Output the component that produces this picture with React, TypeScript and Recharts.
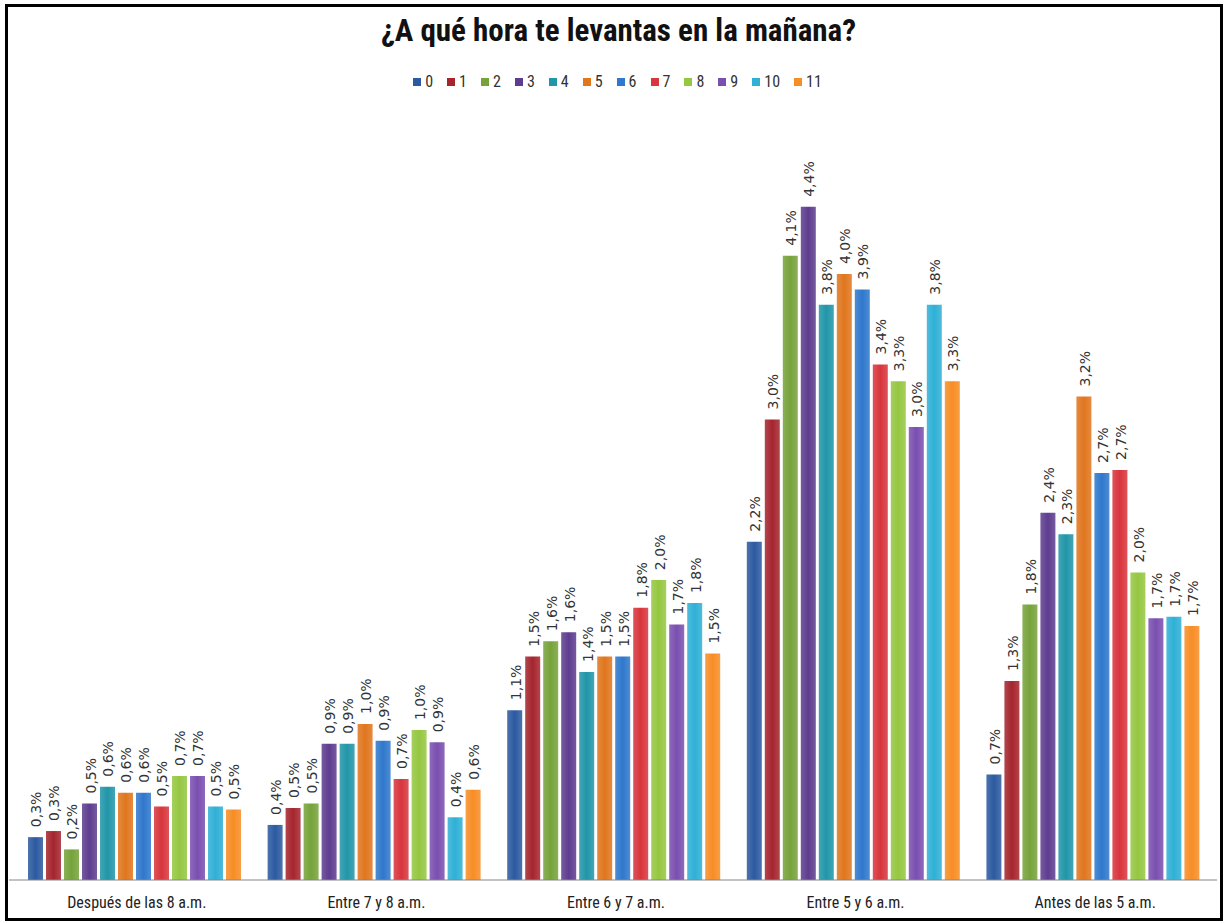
import { BarChart, Bar, XAxis, YAxis, LabelList } from 'recharts'

// Rangos horarios (eje X)
const categories = [
  'Después de las 8 a.m.',
  'Entre 7 y 8 a.m.',
  'Entre 6 y 7 a.m.',
  'Entre 5 y 6 a.m.',
  'Antes de las 5 a.m.',
]

// Nombres de las series (leyenda)
const seriesNames = ['0', '1', '2', '3', '4', '5', '6', '7', '8', '9', '10', '11']

// Valores (%) por serie, en el orden de las categorías
const serie0 = [0.28, 0.36, 1.11, 2.21, 0.69]
const serie1 = [0.32, 0.47, 1.46, 3.01, 1.3]
const serie2 = [0.2, 0.5, 1.56, 4.08, 1.8]
const serie3 = [0.5, 0.89, 1.62, 4.4, 2.4]
const serie4 = [0.61, 0.89, 1.36, 3.76, 2.26]
const serie5 = [0.57, 1.02, 1.46, 3.96, 3.16]
const serie6 = [0.57, 0.91, 1.46, 3.86, 2.66]
const serie7 = [0.48, 0.66, 1.78, 3.37, 2.68]
const serie8 = [0.68, 0.98, 1.96, 3.26, 2.01]
const serie9 = [0.68, 0.9, 1.67, 2.96, 1.71]
const serie10 = [0.48, 0.41, 1.81, 3.76, 1.72]
const serie11 = [0.46, 0.59, 1.48, 3.26, 1.66]

const allSeries = [serie0, serie1, serie2, serie3, serie4, serie5, serie6, serie7, serie8, serie9, serie10, serie11]

const colors = [
  '#2C5AA0', '#A5252E', '#76A33A', '#5E3D8F', '#2196A8', '#E0761E',
  '#2F78CC', '#D8353C', '#95C741', '#7A4FB0', '#2FB0D6', '#F78D25',
]

const data = categories.map((name, i) => {
  const row: Record<string, string | number> = { name }
  seriesNames.forEach((s, j) => {
    row['s' + s] = allSeries[j][i]
  })
  return row
})

const NARROW = '"Liberation Sans Narrow", "Arial Narrow", "Roboto Condensed", sans-serif'

const fmt = (v: number) => v.toFixed(1).replace('.', ',') + '%'

function ValueLabel(props: any) {
  const { x, y, width, value } = props
  const cx = Number(x) + Number(width) / 2 + 1
  const cy = Number(y) - 10
  return (
    <text
      x={cx}
      y={cy}
      transform={`rotate(-90 ${cx} ${cy})`}
      fontSize={14}
      fontFamily='"DejaVu Sans", Verdana, sans-serif'
      fill="#333"
      textAnchor="start"
      dominantBaseline="central"
    >
      {fmt(Number(value))}
    </text>
  )
}

export default function App() {
  return (
    <div style={{ position: 'absolute', left: 0, top: 0, width: 1225, height: 923, background: '#fff' }}>
      {/* Marco */}
      <div
        style={{
          position: 'absolute',
          left: 5,
          top: 4,
          width: 1218,
          height: 917,
          border: '3px solid #000',
          boxSizing: 'border-box',
        }}
      />
      <div
        style={{
          position: 'absolute',
          top: 12,
          left: 0,
          width: 1237,
          textAlign: 'center',
          fontFamily: NARROW,
          fontWeight: 700,
          fontSize: 31,
          color: '#111',
        }}
      >
        ¿A qué hora te levantas en la mañana?
      </div>
      {/* Leyenda */}
      <div
        style={{
          position: 'absolute',
          top: 72,
          left: 0,
          width: 1235,
          display: 'flex',
          justifyContent: 'center',
          gap: 14,
          fontFamily: NARROW,
          fontSize: 16,
          color: '#333',
        }}
      >
        {seriesNames.map((s, i) => (
          <span key={s} style={{ display: 'flex', alignItems: 'center', gap: 4 }}>
            <span style={{ width: 8, height: 8, background: colors[i], display: 'inline-block' }} />
            {s}
          </span>
        ))}
      </div>
      <BarChart
        width={1225}
        height={923}
        data={data}
        margin={{ top: 115, right: 8, left: 9, bottom: 13 }}
        barCategoryGap={11}
        barGap={3}
      >
        <defs>
          {colors.map((c, i) => (
            <linearGradient key={i} id={`g${i}`} x1="0" y1="0" x2="1" y2="0">
              <stop offset="0%" stopColor={c} stopOpacity={0.85} />
              <stop offset="50%" stopColor={c} stopOpacity={1} />
              <stop offset="100%" stopColor={c} stopOpacity={0.85} />
            </linearGradient>
          ))}
        </defs>
        <XAxis
          dataKey="name"
          height={30}
          axisLine={{ stroke: '#868686' }}
          tickLine={false}
          padding={{ left: 8, right: 2 }}
          tick={{ fontSize: 16, fill: '#222', fontFamily: NARROW }}
          tickMargin={11}
        />
        <YAxis hide domain={[0, 5]} />
        {seriesNames.map((s, i) => (
          <Bar key={s} dataKey={'s' + s} fill={`url(#g${i})`} isAnimationActive={false}>
            <LabelList dataKey={'s' + s} content={ValueLabel} />
          </Bar>
        ))}
      </BarChart>
    </div>
  )
}
